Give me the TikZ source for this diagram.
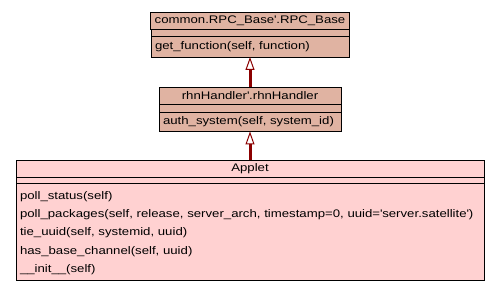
\documentclass[tikz,border=0pt]{standalone}
\usepackage{fontspec}
\setmainfont[FakeStretch=1.2]{Liberation Sans}
\usetikzlibrary{positioning}
\usetikzlibrary{arrows.meta}
\definecolor{basefill}{HTML}{E0B3A2}
\definecolor{leaffill}{HTML}{FFD1D1}
\definecolor{inhcolor}{HTML}{8B0000}

\begin{document}
\begin{tikzpicture}[x=1pt,y=-1pt]
\tikzset{
cls/.style = {rectangle,draw,fill=#1,
              line width=0.8pt,
              inner xsep=4pt,
              inner ysep=0pt,
              outer sep=0.0cm,
              font=\fontsize{11}{18.3}\selectfont},
clsname/.style = {cls=#1,
                  minimum height=17pt},
clsattr/.style = {cls=#1,
                  minimum height=7pt},
clsops/.style = {cls=#1,
                 align=left},
inherit/.style = {draw=inhcolor,
                  line width=3pt,
                  -{Triangle[open,length=13pt,width=9pt,line width=1pt,fill=white]}}
}

\useasboundingbox (0,0) rectangle (499,291);

% common.RPC_Base
\node[clsname=basefill, minimum width=198pt, anchor=north] at (250,12) (RPCname)
  {common.RPC\_Base\textquotesingle.RPC\_Base};
\node[clsattr=basefill, minimum width=198pt, below=0pt of RPCname] (RPCattr) {};
\node[clsops=basefill, minimum width=198pt, text width=190pt, minimum height=21pt,
      below=0pt of RPCattr] (RPCops) {get\_function(self, function)};

% rhnHandler
\node[clsname=basefill, minimum width=182pt, anchor=north] at (250,87) (rhnname)
  {rhnHandler\textquotesingle.rhnHandler};
\node[clsattr=basefill, minimum width=182pt, minimum height=8pt,
      below=0pt of rhnname] (rhnattr) {};
\node[clsops=basefill, minimum width=182pt, text width=174pt, minimum height=19.5pt,
      below=0pt of rhnattr] (rhnops) {auth\_system(self, system\_id)};

% Applet
\node[clsname=leaffill, minimum width=468pt, anchor=north] at (250,160) (Appletname)
  {Applet};
\node[clsattr=leaffill, minimum width=468pt, minimum height=6pt,
      below=0pt of Appletname] (Appletattr) {};
\node[clsops=leaffill, minimum width=468pt, text width=460pt, minimum height=97pt,
      below=0pt of Appletattr] (Appletops)
  {\rule{0pt}{11pt}poll\_status(self)\\
   poll\_packages(self, release, server\_arch, timestamp=0, uuid=\textquotesingle server.satellite\textquotesingle)\\
   tie\_uuid(self, systemid, uuid)\\
   has\_base\_channel(self, uuid)\\
   \_\_init\_\_(self)};

\draw[inherit] (rhnname.north) -- (RPCops.south);
\draw[inherit] (Appletname.north) -- (rhnops.south);
\end{tikzpicture}
\end{document}
